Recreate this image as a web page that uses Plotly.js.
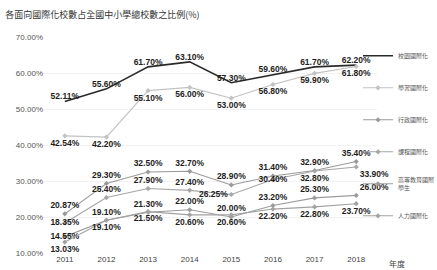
<!DOCTYPE html>
<html><head><meta charset="utf-8">
<script src="https://cdn.plot.ly/plotly-3.0.1.min.js"></script>
<style>html,body{margin:0;padding:0;background:#fff}</style>
</head><body><div id="chart" style="width:437px;height:270px"></div>
<script>
const years = [2011, 2012, 2013, 2014, 2015, 2016, 2017, 2018];
const seriesNames = ["校園國際化", "學習國際化", "行政國際化", "課程國際化", "高等教育國際<br>學生", "人力國際化"];
const campus = [52.11, 55.60, 61.70, 63.10, 57.30, 59.60, 61.70, 62.20];
const learning = [42.54, 42.20, 55.10, 56.00, 53.00, 56.80, 59.90, 61.80];
const admin = [20.87, 29.30, 32.50, 32.70, 28.90, 31.40, 32.90, 35.40];
const curriculum = [18.35, 25.40, 27.90, 27.40, 26.25, 30.40, 32.80, 33.90];
const higher = [14.55, 19.10, 21.30, 22.00, 20.00, 23.20, 25.30, 26.00];
const human = [13.03, 19.10, 21.50, 20.60, 20.60, 22.20, 22.80, 23.70];

const allSeries = [campus, learning, admin, curriculum, higher, human];
const colors = ["#2a2a2a", "#c2c2c2", "#9a9a9a", "#a6a6a6", "#9c9c9c", "#a2a2a2"];
const positions = [
  ["top center","top center","top center","top center","top center","top center","top center","top center"],
  ["bottom center","bottom center","bottom center","bottom center","bottom center","bottom center","bottom center","bottom center"],
  ["top center","top center","top center","top center","top center","top center","top center","top center"],
  ["middle center","top center","top center","top center","middle left","middle center","bottom center","bottom right"],
  ["middle center","top center","top center","top center","top center","top center","top center","top right"],
  ["bottom center","bottom center","bottom center","bottom center","bottom center","bottom center","bottom center","bottom center"]
];

const traces = allSeries.map((vals, i) => ({
  x: years, y: vals, name: seriesNames[i], legendgroup: "g" + i,
  type: "scatter",
  mode: i === 0 ? "lines+text" : "lines+markers+text",
  line: {color: colors[i], width: i === 0 ? 1.6 : 1.1},
  marker: {symbol: "diamond", size: 4, color: colors[i]},
  text: vals.map(v => "<b>" + v.toFixed(2) + "%</b>"),
  textposition: positions[i],
  textfont: {family: "Liberation Sans Narrow, Liberation Sans, sans-serif", size: 8.5, color: "#1e1e1e"},
  cliponaxis: false, hoverinfo: "skip"
}));

const layout = {
  width: 437, height: 270,
  margin: {l: 44, r: 60, t: 37, b: 17, autoexpand: false},
  paper_bgcolor: "#fff", plot_bgcolor: "#fff",
  font: {family: "Noto Sans CJK TC, sans-serif", size: 8, color: "#444"},
  title: {text: "各面向國際化校數占全國中小學總校數之比例(%)", x: 0.012, xanchor: "left", y: 0.955, yanchor: "top",
          font: {size: 9, color: "#333", family: "Noto Sans CJK TC, sans-serif"}},
  xaxis: {range: [2010.5, 2018.5], tickvals: years, ticktext: years.map(String), showgrid: false,
          zeroline: false, showline: false, ticks: "", tickfont: {size: 8, color: "#444", family: "Liberation Sans Narrow, sans-serif"}},
  yaxis: {range: [10, 70], dtick: 10, tickformat: ".2f", ticksuffix: "%", showgrid: true, gridcolor: "#f2f2f2",
          zeroline: false, showline: false, ticks: "", tickfont: {size: 8, color: "#555", family: "Liberation Sans Narrow, sans-serif"}},
  showlegend: true,
  legend: {x: 0.943, xanchor: "left", y: 0.98, yanchor: "top", traceorder: "grouped", tracegroupgap: 13,
           font: {size: 6, color: "#555", family: "Noto Sans CJK TC, sans-serif"}, itemwidth: 30, bgcolor: "rgba(0,0,0,0)"},
  annotations: [{text: "年度", xref: "paper", yref: "paper", x: 1.06, y: 0, yanchor: "top", yshift: -3, xanchor: "center",
                 showarrow: false, font: {size: 8, color: "#444", family: "Noto Sans CJK TC, sans-serif"}}]
};
Plotly.newPlot("chart", traces, layout, {displayModeBar: false, staticPlot: true});
</script></body></html>
